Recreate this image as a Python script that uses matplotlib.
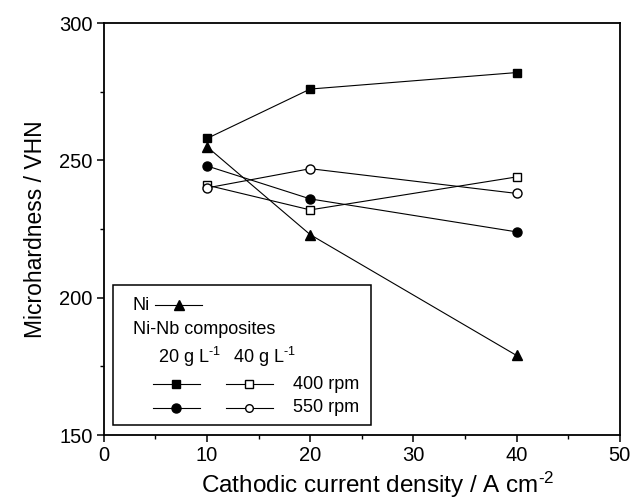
import matplotlib
matplotlib.use("Agg")
import matplotlib.pyplot as plt
from matplotlib.lines import Line2D
from matplotlib.patches import Rectangle

plt.rcParams['font.family'] = ['Liberation Sans', 'DejaVu Sans']
plt.rcParams['mathtext.fontset'] = 'custom'
plt.rcParams['mathtext.rm'] = 'Liberation Sans'
plt.rcParams['mathtext.it'] = 'Liberation Sans'
plt.rcParams['mathtext.default'] = 'regular'

# data
current = [10, 20, 40]
ni = [255, 223, 179]
nb20_400 = [258, 276, 282]
nb20_550 = [248, 236, 224]
nb40_400 = [241, 232, 244]
nb40_550 = [240, 247, 238]

fig = plt.figure(figsize=(6.33, 5.03), dpi=100)
ax = fig.add_axes([0.164, 0.135, 0.815, 0.819])

lw = 0.8
ax.plot(current, ni, '-', color='k', lw=lw, marker='^', ms=7.5, mfc='k', mec='k')
ax.plot(current, nb20_400, '-', color='k', lw=lw, marker='s', ms=6, mfc='k', mec='k')
ax.plot(current, nb20_550, '-', color='k', lw=lw, marker='o', ms=6.5, mfc='k', mec='k')
ax.plot(current, nb40_400, '-', color='k', lw=lw, marker='s', ms=6, mfc='white', mec='k', mew=1.0)
ax.plot(current, nb40_550, '-', color='k', lw=lw, marker='o', ms=6.5, mfc='white', mec='k', mew=1.0)

ax.set_xlim(0, 50)
ax.set_ylim(150, 300)
ax.set_xticks([0, 10, 20, 30, 40, 50])
ax.set_xticks([5, 15, 25, 35, 45], minor=True)
ax.set_yticks([150, 200, 250, 300])
ax.set_yticks([175, 225, 275], minor=True)
ax.tick_params(which='major', direction='out', length=5, width=1.1, labelsize=14.5, pad=3)
ax.tick_params(which='minor', direction='out', length=3, width=1)
for s in ax.spines.values():
    s.set_linewidth(1.3)

ax.set_xlabel(r'Cathodic current density / A cm$^{\text{-2}}$', fontsize=17.5)
ax.xaxis.set_label_coords(0.53, -0.085)
ax.set_ylabel('Microhardness / VHN', fontsize=16.5, labelpad=9)

# hand-made legend in axes coordinates
T = ax.transAxes
ax.add_patch(Rectangle((0.017, 0.024), 0.5, 0.34, transform=T, fill=False,
                       ec='k', lw=1.1, zorder=5))
fs = 13
ax.text(0.056, 0.315, 'Ni', transform=T, fontsize=fs, va='center', zorder=6)
ax.text(0.056, 0.257, 'Ni-Nb composites', transform=T, fontsize=fs, va='center', zorder=6)
ax.text(0.105, 0.190, r'20 g L$^{\text{-1}}$', transform=T, fontsize=fs, va='center', zorder=6)
ax.text(0.250, 0.190, r'40 g L$^{\text{-1}}$', transform=T, fontsize=fs, va='center', zorder=6)
ax.text(0.366, 0.124, '400 rpm', transform=T, fontsize=fs, va='center', zorder=6)
ax.text(0.366, 0.066, '550 rpm', transform=T, fontsize=fs, va='center', zorder=6)

keys = [
    (0.099, 0.191, 0.315, '^', 'k', 7),
    (0.095, 0.186, 0.124, 's', 'k', 6),
    (0.095, 0.186, 0.066, 'o', 'k', 6.5),
    (0.236, 0.327, 0.124, 's', 'white', 5.5),
    (0.236, 0.327, 0.066, 'o', 'white', 5.5),
]
for x0, x1, y, m, fc, ms in keys:
    ax.add_line(Line2D([x0, x1], [y, y], transform=T, color='k', lw=lw, zorder=6))
    ax.add_line(Line2D([(x0 + x1) / 2], [y], transform=T, marker=m, ms=ms,
                       mfc=fc, mec='k', mew=1.0, ls='none', zorder=7))

fig.savefig('out.png', dpi=100)
